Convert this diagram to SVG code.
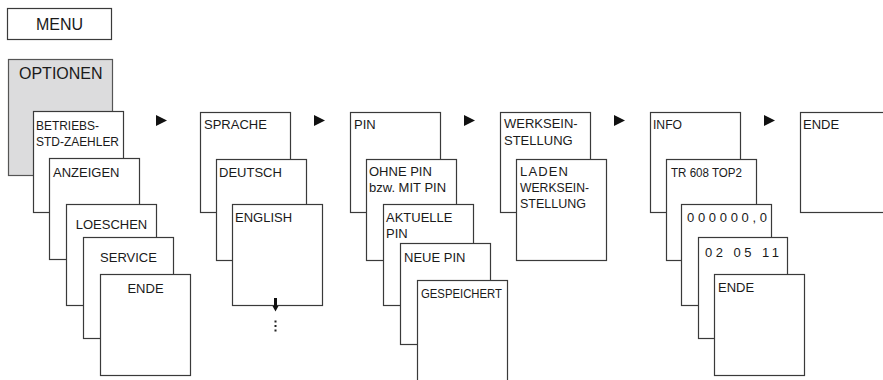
<svg xmlns="http://www.w3.org/2000/svg" width="883" height="380" viewBox="0 0 883 380">
<style>
  .box { fill: #ffffff; stroke: #3a3a3a; stroke-width: 1.2; }
  .grey { fill: #dcdcdd; stroke: #555555; stroke-width: 1.2; }
  .t { font-family: "Liberation Sans", Arial, sans-serif; font-size: 13px; fill: #1a1a1a; }
  .big { font-size: 16px; }
  .mid { text-anchor: middle; }
  .tri { fill: #111111; }
  .dot { fill: #222222; }
</style>
<rect x="0" y="0" width="883" height="380" fill="#ffffff"/>

<g id="menu">
  <rect class="box" x="7.5" y="8.5" width="104" height="31" stroke="#555555"/>
  <text class="t big mid" x="59.5" y="30">MENU</text>
</g>

<!-- Column 1 -->
<g id="optionen">
  <rect class="grey" x="8.5" y="59.5" width="104" height="116"/>
  <text class="t big" x="19" y="79">OPTIONEN</text>
</g>
<g id="betriebs">
  <rect class="box" x="33.5" y="111.5" width="90" height="101"/>
  <text class="t" x="36" y="130" textLength="63" lengthAdjust="spacingAndGlyphs">BETRIEBS-</text>
  <text class="t" x="36" y="146" textLength="83" lengthAdjust="spacingAndGlyphs">STD-ZAEHLER</text>
</g>
<g id="anzeigen">
  <rect class="box" x="49.5" y="158.5" width="90" height="101"/>
  <text class="t" x="53" y="177">ANZEIGEN</text>
</g>
<g id="loeschen">
  <rect class="box" x="66.5" y="204.5" width="90" height="101"/>
  <text class="t mid" x="111.5" y="229">LOESCHEN</text>
</g>
<g id="service">
  <rect class="box" x="83.5" y="237.5" width="90" height="101"/>
  <text class="t mid" x="128.5" y="262">SERVICE</text>
</g>
<g id="ende1">
  <rect class="box" x="100.5" y="274.5" width="90" height="101"/>
  <text class="t mid" x="145.5" y="293">ENDE</text>
</g>

<!-- Column 2 -->
<g id="sprache">
  <rect class="box" x="200.5" y="112.5" width="90" height="100"/>
  <text class="t" x="204" y="129">SPRACHE</text>
</g>
<g id="deutsch">
  <rect class="box" x="216.5" y="159.5" width="90" height="101"/>
  <text class="t" x="219" y="177">DEUTSCH</text>
</g>
<g id="english">
  <rect class="box" x="232.5" y="204.5" width="90" height="101"/>
  <text class="t" x="235" y="222">ENGLISH</text>
</g>

<!-- Column 3 -->
<g id="pin">
  <rect class="box" x="350.5" y="112.5" width="90" height="100"/>
  <text class="t" x="354" y="129">PIN</text>
</g>
<g id="ohnepin">
  <rect class="box" x="366.5" y="159.5" width="90" height="101"/>
  <text class="t" x="369" y="176">OHNE PIN</text>
  <text class="t" x="369" y="192">bzw. MIT PIN</text>
</g>
<g id="aktuellepin">
  <rect class="box" x="383.5" y="204.5" width="90" height="101"/>
  <text class="t" x="386" y="222">AKTUELLE</text>
  <text class="t" x="386" y="238">PIN</text>
</g>
<g id="neuepin">
  <rect class="box" x="400.5" y="243.5" width="90" height="101"/>
  <text class="t" x="404" y="262">NEUE PIN</text>
</g>
<g id="gespeichert">
  <rect class="box" x="417.5" y="280.5" width="90" height="110"/>
  <text class="t" x="421" y="298" textLength="81" lengthAdjust="spacingAndGlyphs">GESPEICHERT</text>
</g>

<!-- Column 4 -->
<g id="werkseinstellung">
  <rect class="box" x="500.5" y="112.5" width="90" height="100"/>
  <text class="t" x="504" y="128">WERKSEIN-</text>
  <text class="t" x="504" y="145">STELLUNG</text>
</g>
<g id="laden">
  <rect class="box" x="516.5" y="159.5" width="90" height="101"/>
  <text class="t" x="520" y="176" textLength="48" lengthAdjust="spacing">LADEN</text>
  <text class="t" x="520" y="192" textLength="69" lengthAdjust="spacingAndGlyphs">WERKSEIN-</text>
  <text class="t" x="520" y="208" textLength="66" lengthAdjust="spacingAndGlyphs">STELLUNG</text>
</g>

<!-- Column 5 -->
<g id="info">
  <rect class="box" x="650.5" y="112.5" width="90" height="100"/>
  <text class="t" x="653" y="129" textLength="29" lengthAdjust="spacingAndGlyphs">INFO</text>
</g>
<g id="tr608">
  <rect class="box" x="666.5" y="159.5" width="90" height="101"/>
  <text class="t" x="671" y="177" textLength="71" lengthAdjust="spacingAndGlyphs">TR 608 TOP2</text>
</g>
<g id="counter">
  <rect class="box" x="681.5" y="204.5" width="90" height="101"/>
  <text class="t" x="687" y="222" textLength="80" lengthAdjust="spacing">000000,0</text>
</g>
<g id="date">
  <rect class="box" x="698.5" y="237.5" width="89" height="101"/>
  <text class="t" x="705" y="257" textLength="74" lengthAdjust="spacing">02 05 11</text>
</g>
<g id="ende5">
  <rect class="box" x="714.5" y="274.5" width="90" height="101"/>
  <text class="t" x="718" y="292">ENDE</text>
</g>

<!-- Column 6 -->
<g id="ende6">
  <rect class="box" x="800.5" y="112.5" width="95" height="100"/>
  <text class="t" x="803" y="129">ENDE</text>
</g>

<g id="connectors">
  <polygon class="tri" points="156,115 156,126 167,120.5"/>
  <polygon class="tri" points="314,115 314,126 325,120.5"/>
  <polygon class="tri" points="464,115 464,126 475,120.5"/>
  <polygon class="tri" points="614,115 614,126 625,120.5"/>
  <polygon class="tri" points="764,115 764,126 775,120.5"/>
  <polygon class="tri" points="274,298 277,298 277,306 278.5,306 275.5,311.5 272.5,306 274,306"/>
  <rect class="dot" x="274.5" y="320.5" width="2" height="2"/>
  <rect class="dot" x="274.5" y="325" width="2" height="2"/>
  <rect class="dot" x="274.5" y="329.5" width="2" height="2"/>
</g>
</svg>
